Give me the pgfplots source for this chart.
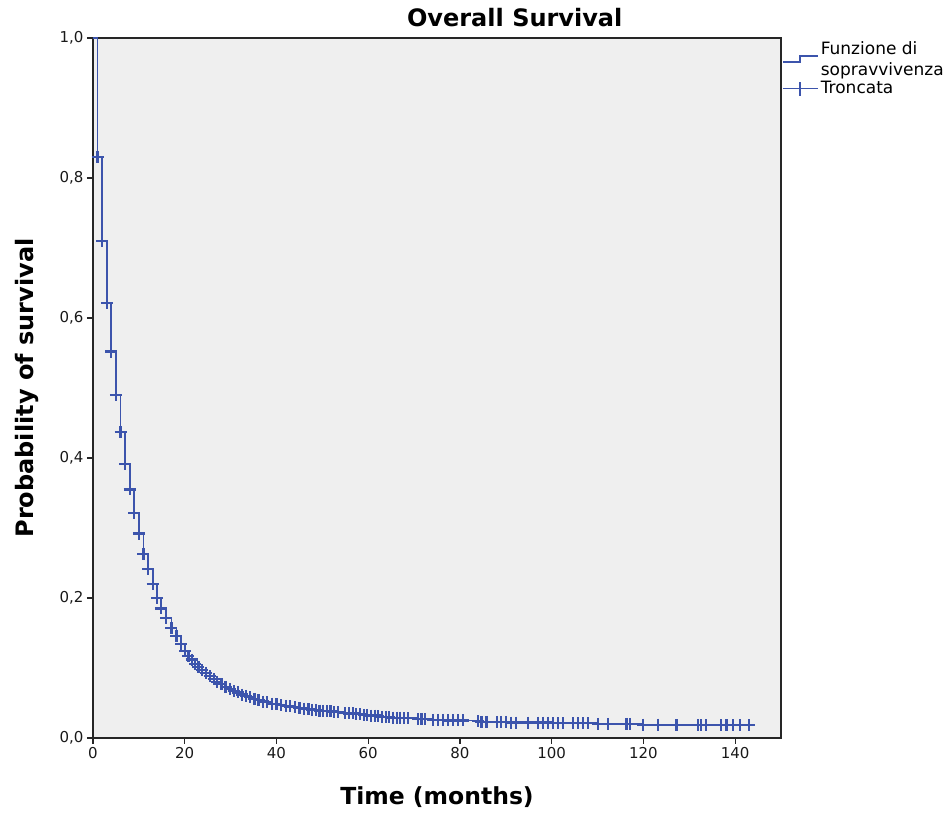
\documentclass[border=0pt]{standalone}
\usepackage{fontspec}
\setmainfont{DejaVu Sans}
\usepackage{pgfplots}
\pgfplotsset{compat=1.18}
\definecolor{kmblue}{RGB}{60,84,172}
\definecolor{panel}{RGB}{239,239,239}
\pgfplotsset{
  steplegend/.style={legend image code/.code={
    \draw[##1, kmblue, line width=1.6pt] (0pt,-3pt) -- (17pt,-3pt) -- (17pt,3pt) -- (35pt,3pt);}},
  censlegend/.style={legend image code/.code={
    \draw[##1, kmblue, line width=1.6pt] (0pt,0pt) -- (35pt,0pt);
    \draw[##1, kmblue, line width=1.6pt] (17pt,-7pt) -- (17pt,7pt);}},
}

\begin{document}
\begin{tikzpicture}
\begin{axis}[
    scale only axis,
    width=688pt, height=700pt,
    xmin=0, xmax=150, ymin=0, ymax=1,
    xtick={0,20,40,60,80,100,120,140},
    xticklabels={0,20,40,60,80,100,120,140},
    ytick={0,0.2,0.4,0.6,0.8,1},
    yticklabels={{0,0},{0,2},{0,4},{0,6},{0,8},{1,0}},
    tick align=outside, xtick pos=left, ytick pos=left,
    major tick length=6pt,
    axis line style={line width=1.2pt, black!85},
    every tick/.style={black!85, line width=1.2pt},
    axis background/.style={fill=panel},
    tick label style={font=\fontsize{15}{17}\selectfont, text=black!90},
    title={Overall Survival},
    title style={font=\bfseries\fontsize{24}{28}\selectfont, at={(axis description cs:0.613,1.021)}, anchor=center},
    xlabel={Time (months)},
    xlabel style={font=\bfseries\fontsize{23.5}{26}\selectfont, at={(axis description cs:0.5,-0.084)}, anchor=center},
    ylabel={Probability of survival},
    ylabel style={font=\bfseries\fontsize{24}{26}\selectfont, at={(axis description cs:-0.096,0.5)}, anchor=center},
    legend style={at={(axis description cs:1,1)}, anchor=north west, draw=none, fill=none,
        font=\fontsize{17}{21}\selectfont, inner xsep=1pt, inner ysep=1pt, row sep=1pt,
        cells={anchor=west, align=left}},
]
\addplot[kmblue, line width=1.8pt, const plot, forget plot] coordinates {(0,1) (1,0.830)};
\addplot[kmblue, line width=1.8pt, const plot, mark=+, mark size=6pt,
    mark options={kmblue, solid, line width=2.2pt}, forget plot] coordinates {
(1,0.830) (2,0.710) (3,0.621) (4,0.552) (5,0.490) (6,0.437) (7,0.391) (8,0.355)
(9,0.321) (10,0.292) (11,0.263) (12,0.241) (13,0.220) (14,0.200) (14.8,0.185)
(16,0.171) (17.1,0.157) (18.2,0.146) (19.2,0.134) (20.1,0.124) (20.8,0.117)
(21.5,0.112) (22.3,0.106) (23,0.101) (23.8,0.097) (24.6,0.093) (25.5,0.088)
(26.3,0.084) (27.1,0.080) (28,0.077) (28.9,0.073) (29.8,0.070) (30.7,0.067)
(31.6,0.065) (32.5,0.062) (33.4,0.060) (34.3,0.058) (35.2,0.056) (36.1,0.054)
(37,0.052) (38,0.051) (39,0.049) (40,0.048) (41,0.047) (42,0.046) (43,0.045)
(44,0.044) (45,0.043) (46,0.042) (47,0.041) (47.8,0.040) (48.6,0.040) (49.4,0.039)
(50.2,0.039) (51,0.038) (51.8,0.038) (52.6,0.037) (53.4,0.037) (55,0.036)
(55.8,0.035) (56.6,0.035) (57.4,0.034) (58.2,0.034) (59,0.033) (59.8,0.033)
(60.6,0.032) (61.4,0.032) (62.2,0.031) (63,0.030) (63.8,0.030) (64.6,0.030)
(65.4,0.029) (66.2,0.029) (67,0.029) (67.8,0.028) (68.6,0.028) (70.9,0.027)
(71.6,0.027) (72.3,0.027) (74.1,0.026) (75.2,0.026) (76.3,0.026) (77.4,0.025)
(78.5,0.025) (79.6,0.025) (80.7,0.025) (83.9,0.024) (84.7,0.023) (85.8,0.023)
(88,0.023) (89,0.023) (90.1,0.023) (91.2,0.022) (92.3,0.022) (94.8,0.022)
(97,0.022) (98.1,0.022) (99.2,0.022) (100.3,0.021) (101.4,0.021) (102.5,0.021)
(104.6,0.021) (105.7,0.021) (106.8,0.021) (107.9,0.021) (110.1,0.020) (112.3,0.020)
(116.3,0.020) (117,0.020) (119.9,0.019) (123.2,0.019) (127.2,0.018) (131.9,0.018)
(132.6,0.018) (133.7,0.018) (137,0.018) (138.1,0.018) (139.5,0.018) (141,0.018)
(143.1,0.018)
};
\addlegendimage{kmblue, steplegend}
\addlegendentry{Funzione di\\sopravvivenza}
\addlegendimage{kmblue, censlegend}
\addlegendentry{Troncata}
\coordinate (ll) at (rel axis cs:0,0);
\coordinate (ur) at (rel axis cs:1,1);
\end{axis}
\pgfresetboundingbox
\path[use as bounding box] ([xshift=-93pt,yshift=-78pt]ll) rectangle ([xshift=170pt,yshift=38pt]ur);
\end{tikzpicture}
\end{document}
